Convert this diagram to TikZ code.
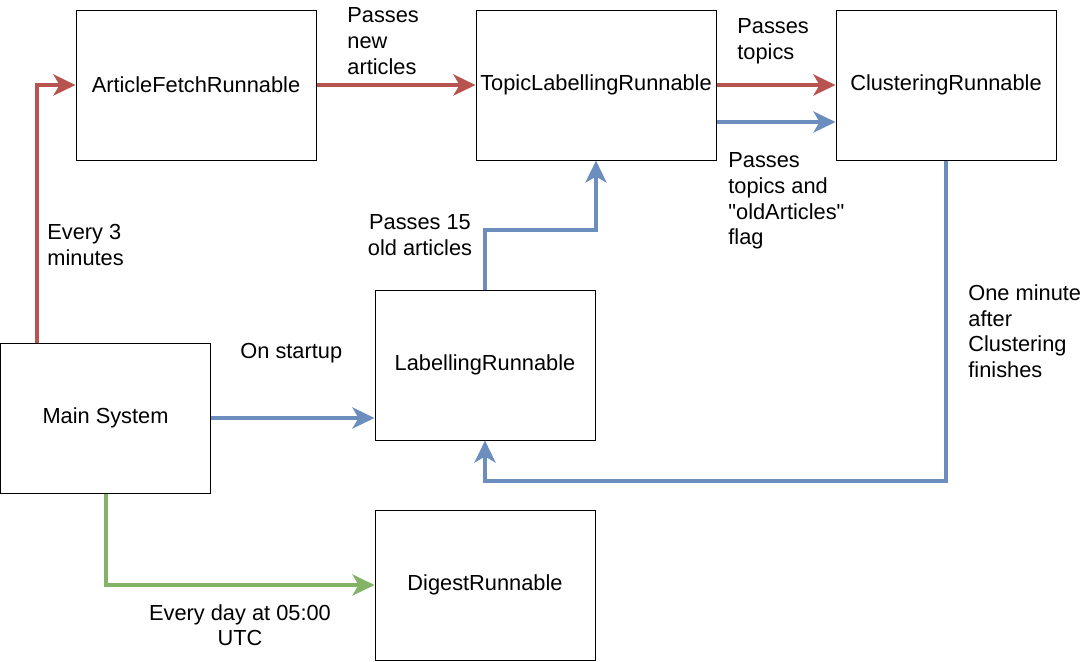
\documentclass[tikz,border=0pt]{standalone}
\usepackage{fontspec}
\setmainfont{Liberation Sans}[Ligatures=TeXOff]
\usetikzlibrary{arrows.meta,positioning,calc}
\definecolor{flowred}{HTML}{B85450}
\definecolor{flowblue}{HTML}{6C8EBF}
\definecolor{flowgreen}{HTML}{82B366}

\begin{document}
\begin{tikzpicture}[
  x=0.5pt, y=-0.5pt,
  >={Stealth[length=11pt,width=10.5pt,inset=3pt]},
  every node/.style={font=\fontsize{10.9pt}{12.8pt}\selectfont},
  box/.style={draw, line width=0.5pt, align=center, minimum width=#1*0.5pt, minimum height=75pt, inner sep=0pt},
  box/.default=220,
  lbl/.style={align=left, inner sep=0pt},
  redflow/.style={->, draw=flowred, line width=2pt},
  blueflow/.style={->, draw=flowblue, line width=2pt},
  greenflow/.style={->, draw=flowgreen, line width=2pt}
]
\useasboundingbox (0,0) rectangle (1088,661);
\node[box=240] (fetch) at (196,85) {ArticleFetchRunnable};
\node[box=240] (topic) at (596,85) {TopicLabellingRunnable};
\node[box] (cluster) at (946,85) {ClusteringRunnable};
\node[box=210] (main) at (105.5,418) {Main System};
\node[box] (labelling) at (485,365) {LabellingRunnable};
\node[box] (digest) at (485,585) {DigestRunnable};
% connectors
\draw[redflow] ($(main.north west)+(37,0)$) |- (fetch.west);
\draw[redflow] (fetch.east) -- (topic.west);
\draw[redflow] (topic.east) -- (cluster.west);
\draw[blueflow] ($(topic.east)+(0,37)$) -- ($(cluster.west)+(0,37)$);
\draw[blueflow] (labelling.north) -- ++(0,-60) -| (topic.south);
\draw[blueflow] (main.east) -- (main.east -| labelling.west);
\draw[blueflow] (cluster.south) -- ++(0,320) -| (labelling.south);
\draw[greenflow] (main.south) |- (digest.west);
% labels
\node[lbl, anchor=west] (every3) at (47,245) {Every 3\\minutes};
\node[lbl, anchor=west] (newart) at (347,41) {Passes\\new\\articles};
\node[lbl, anchor=west] (passtop) at (737,41) {Passes\\topics};
\node[lbl, anchor=west] (passold) at (728,201) {Passes\\topics and\\"oldArticles"\\flag};
\node[lbl, align=center] (pass15) at (420,235) {Passes 15\\old articles};
\node[lbl, anchor=west] (startup) at (240,353) {On startup};
\node[lbl, anchor=west] (oneminute) at (968,331) {One minute\\after\\Clustering\\finishes};
\node[lbl, align=center] (everyday) at (240,625) {Every day at 05:00\\UTC};
\end{tikzpicture}
\end{document}
